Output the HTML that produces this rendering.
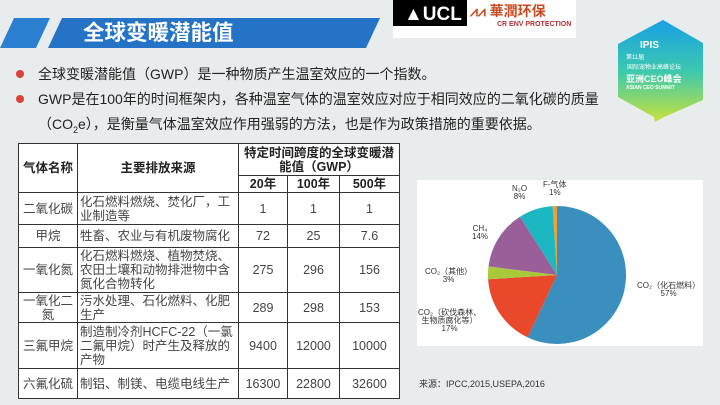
<!DOCTYPE html>
<html><head><meta charset="utf-8"><style>
*{margin:0;padding:0;box-sizing:border-box}
body{width:720px;height:405px;overflow:hidden;background:#e9eced;position:relative;font-family:"Liberation Sans","Noto Sans CJK SC",sans-serif;color:#222}
.a{position:absolute;white-space:nowrap}
table{position:absolute;left:18px;top:143px;border-collapse:collapse;font-size:12.5px;color:#444;background:#fff;table-layout:fixed}
td{border:1.5px solid #333;text-align:center;line-height:14px;padding:0 2px;overflow:hidden}
td.l{text-align:left}
th{border:1.5px solid #333;font-weight:bold;font-size:12.5px;line-height:14px;color:#222}
</style></head><body>
<svg class="a" style="left:0;top:0" width="720" height="405">
<polygon points="14,18 50,18 36,48 0,48" fill="#2b7fd0"/>
<polygon points="62,18 380,18 366,48 48,48" fill="#2473c6"/>
<rect x="393" y="0" width="183" height="38" fill="#fff"/>
<rect x="393" y="0" width="74" height="26" fill="#000"/>
<defs><linearGradient id="g" x1="0" y1="0" x2="0" y2="1"><stop offset="0" stop-color="#18a0e4"/><stop offset="0.5" stop-color="#3cc8b0"/><stop offset="1" stop-color="#c8e23a"/></linearGradient></defs>
<polygon points="663,20 703,43 703,100 662,118 655,122 654,117 618,97 618,44" fill="url(#g)"/>
<rect x="417" y="180" width="286" height="166" fill="#fff"/>
<path d="M557,275 L557,206 A69,69 0 1,1 527.6,337.4 Z" fill="#3a8fbf"/>
<path d="M557,275 L527.6,337.4 A69,69 0 0,1 488.1,279.3 Z" fill="#e8492a"/>
<path d="M557,275 L488.1,279.3 A69,69 0 0,1 488.5,266.4 Z" fill="#a8c93a"/>
<path d="M557,275 L488.5,266.4 A69,69 0 0,1 520,216.7 Z" fill="#9a5f98"/>
<path d="M557,275 L520,216.7 A69,69 0 0,1 552.7,206.1 Z" fill="#1bb7c3"/>
<path d="M557,275 L552.7,206.1 A69,69 0 0,1 557,206 Z" fill="#f0a030"/>
<circle cx="20" cy="74" r="4" fill="#d9413a"/>
<circle cx="20" cy="99" r="4" fill="#d9413a"/>
</svg>
<div class="a" style="left:83px;top:18px;font-size:21.5px;font-weight:bold;color:#fff;line-height:30px">全球变暖潜能值</div>
<div class="a" style="left:404px;top:4px;font-size:19px;font-weight:bold;color:#fff">▲UCL</div>
<div class="a" style="left:470px;top:1px;font-size:14px;font-weight:bold;color:#c84a20">⩘⩘ 華潤环保</div>
<div class="a" style="left:497px;top:21px;font-size:7px;font-weight:bold;color:#a33">CR ENV PROTECTION</div>
<div class="a" style="left:640px;top:40px;font-size:10px;font-weight:bold;color:#fff">IPIS</div>
<div class="a" style="left:626px;top:52px;font-size:6px;color:#fff">第11届</div>
<div class="a" style="left:627px;top:62px;font-size:6px;color:#fff">国际宠物业高峰论坛</div>
<div class="a" style="left:626px;top:72px;font-size:9px;font-weight:bold;color:#fff">亚洲CEO峰会</div>
<div class="a" style="left:626px;top:85px;font-size:5px;font-weight:bold;color:#fff">ASIAN CEO SUMMIT</div>
<div class="a" style="left:38px;top:65px;font-size:14px;line-height:18px">全球变暖潜能值（GWP）是一种物质产生温室效应的一个指数。</div>
<div class="a" style="left:38px;top:90px;font-size:14px;line-height:18px">GWP是在100年的时间框架内，各种温室气体的温室效应对应于相同效应的二氧化碳的质量</div>
<div class="a" style="left:38px;top:115px;font-size:14px;line-height:18px">（CO<sub style="font-size:9px">2</sub>e），是衡量气体温室效应作用强弱的方法，也是作为政策措施的重要依据。</div>
<table>
<colgroup><col style="width:59px"><col style="width:161px"><col style="width:49px"><col style="width:52px"><col style="width:60px"></colgroup>
<tr style="height:32px"><th rowspan="2">气体名称</th><th rowspan="2">主要排放来源</th><th colspan="3">特定时间跨度的全球变暖潜<br>能值（GWP）</th></tr>
<tr style="height:17px"><th>20年</th><th>100年</th><th>500年</th></tr>
<tr style="height:32px"><td>二氧化碳</td><td class="l">化石燃料燃烧、焚化厂，工<br>业制造等</td><td>1</td><td>1</td><td>1</td></tr>
<tr style="height:23px"><td>甲烷</td><td class="l">牲畜、农业与有机废物腐化</td><td>72</td><td>25</td><td>7.6</td></tr>
<tr style="height:45px"><td>一氧化氮</td><td class="l">化石燃料燃烧、植物焚烧、<br>农田土壤和动物排泄物中含<br>氮化合物转化</td><td>275</td><td>296</td><td>156</td></tr>
<tr style="height:30px"><td>一氧化二<br>氮</td><td class="l">污水处理、石化燃料、化肥<br>生产</td><td>289</td><td>298</td><td>153</td></tr>
<tr style="height:46px"><td>三氟甲烷</td><td class="l">制造制冷剂HCFC-22（一氯<br>二氟甲烷）时产生及释放的<br>产物</td><td>9400</td><td>12000</td><td>10000</td></tr>
<tr style="height:30px"><td>六氟化硫</td><td class="l">制铝、制镁、电缆电线生产</td><td>16300</td><td>22800</td><td>32600</td></tr>
</table>
<div class="a" style="left:543px;top:181px;font-size:8px;line-height:8px;text-align:center;color:#333">F-气体<br>1%</div>
<div class="a" style="left:512px;top:185px;font-size:8px;line-height:8px;text-align:center;color:#333">N₂O<br>8%</div>
<div class="a" style="left:472px;top:225px;font-size:8px;line-height:8px;text-align:center;color:#333">CH₄<br>14%</div>
<div class="a" style="left:425px;top:268px;font-size:8px;line-height:8px;text-align:center;color:#333">CO₂（其他）<br>3%</div>
<div class="a" style="left:418px;top:309px;font-size:8px;line-height:8px;text-align:center;color:#333">CO₂（砍伐森林、<br>生物质腐化等）<br>17%</div>
<div class="a" style="left:637px;top:282px;font-size:8px;line-height:8px;text-align:center;color:#333">CO₂（化石燃料）<br>57%</div>
<div class="a" style="left:419px;top:377px;font-size:9px;color:#333">来源：IPCC,2015,USEPA,2016</div>
</body></html>
